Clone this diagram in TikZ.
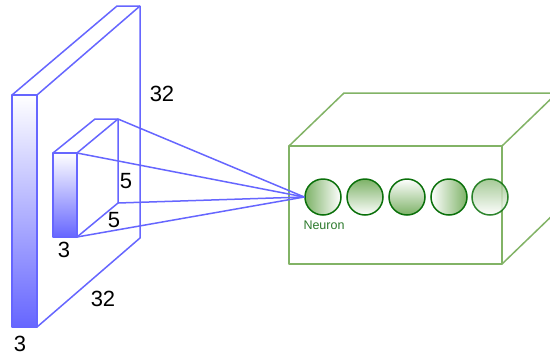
\documentclass[tikz,border=0pt]{standalone}
\usepackage{fontspec}
\setmainfont{Liberation Sans}
\begin{document}
\begin{tikzpicture}[x=1pt,y=-1pt,
  blueline/.style={draw=bl,line width=1.5pt,line join=round},
  greenline/.style={draw=gbox,line width=1.5pt,line join=round},
  neuron/.style={circle,draw=gdark,line width=1.5pt,minimum size=36pt,inner sep=0pt},
  dimlabel/.style={font=\fontsize{22}{22}\selectfont,inner sep=0pt,text=black}]
\definecolor{bl}{HTML}{6666FF}
\definecolor{gbox}{HTML}{82B366}
\definecolor{gdark}{HTML}{0A700A}
\definecolor{gfill}{HTML}{7DB267}
\definecolor{gtext}{HTML}{2D7A2D}
\useasboundingbox (0,0) rectangle (550,360);
\clip (0,0) rectangle (550,360);
\fill[white] (0,0) rectangle (550,360);
% big slab
\coordinate (A1) at (12,95);  \coordinate (A2) at (37,95);
\coordinate (A3) at (37,327); \coordinate (A4) at (12,327);
\coordinate (B1) at (117,6);  \coordinate (B2) at (140,6);
\coordinate (B3) at (140,238);
\shade[top color=white,bottom color=bl] (A1) rectangle (A3);
\draw[blueline] (A1) -- (A2) -- (A3) -- (A4) -- cycle;
\draw[blueline] (A1) -- (B1) -- (B2) -- (B3) -- (A3);
\draw[blueline] (A2) -- (B2);
% small block
\coordinate (C1) at (53,153);  \coordinate (C2) at (77,153);
\coordinate (C3) at (77,237);  \coordinate (C4) at (53,237);
\coordinate (D1) at (95,119);  \coordinate (D2) at (118,119);
\coordinate (D3) at (118,203);
\shade[top color=white,bottom color=bl] (C1) rectangle (C3);
\draw[blueline] (C1) -- (C2) -- (C3) -- (C4) -- cycle;
\draw[blueline] (C1) -- (D1) -- (D2) -- (D3) -- (C3);
\draw[blueline] (C2) -- (D2);
% green box
\coordinate (E1) at (289,146); \coordinate (E2) at (502,146);
\coordinate (E3) at (502,264); \coordinate (E4) at (289,264);
\coordinate (F1) at (344,93);  \coordinate (F2) at (557,93);
\coordinate (F3) at (557,211);
\draw[greenline] (E1) -- (E2) -- (E3) -- (E4) -- cycle;
\draw[greenline] (E1) -- (F1) -- (F2) -- (F3) -- (E3);
\draw[greenline] (E2) -- (F2);
% neurons
\node[neuron,left color=gfill,right color=white] (n1) at (323,197) {};
\node[neuron,top color=gfill,bottom color=white] (n2) at (365,197) {};
\node[neuron,top color=white,bottom color=gfill] (n3) at (407,197) {};
\node[neuron,left color=white,right color=gfill] (n4) at (449,197) {};
\node[neuron,top color=gfill!80,bottom color=white,opacity=0.85] (n5) at (490,197) {};
% connectors
\draw[blueline] (D2) -- (n1.west);
\draw[blueline] (C2) -- (n1.west);
\draw[blueline] (D3) -- (n1.west);
\draw[blueline] (C3) -- (n1.west);
\node[font=\fontsize{12.5}{12.5}\selectfont,text=gtext,inner sep=0pt] (lbl) at (324,225) {Neuron};
% labels
\node[dimlabel] (l1) at (162,94) {32};
\node[dimlabel] (l2) at (103,299) {32};
\node[dimlabel] (l3) at (20,344) {3};
\node[dimlabel] (l4) at (64,250) {3};
\node[dimlabel] (l5) at (126,181) {5};
\node[dimlabel] (l6) at (114,220) {5};
\end{tikzpicture}
\end{document}
